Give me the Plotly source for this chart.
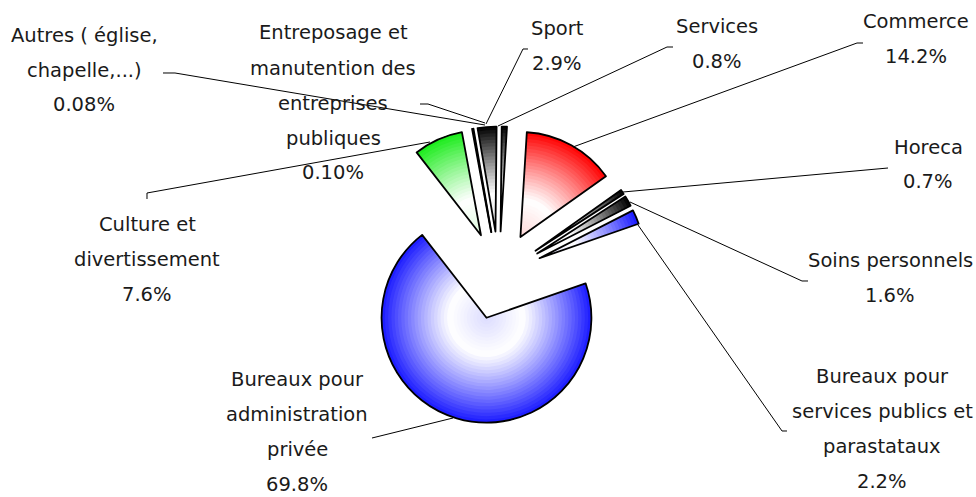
import plotly.graph_objects as go

# slices, clockwise from Commerce
categories = [
    "Commerce", "Horeca", "Soins personnels",
    "Bureaux pour services publics et parastataux",
    "Bureaux pour administration privée",
    "Culture et divertissement",
    "Entreposage et manutention des entreprises publiques",
    "Autres ( église, chapelle,...)",
    "Sport", "Services",
]
shares = [14.2, 0.7, 1.6, 2.2, 69.8, 7.6, 0.10, 0.08, 2.9, 0.8]
label_lines = [
    ["Commerce"], ["Horeca"], ["Soins personnels"],
    ["Bureaux pour", "services publics et", "parastataux"],
    ["Bureaux pour", "administration", "privée"],
    ["Culture et", "divertissement"],
    ["Entreposage et", "manutention des", "entreprises", "publiques"],
    ["Autres ( église,", "chapelle,...)"],
    ["Sport"], ["Services"],
]

W, H = 976, 497
base_colors = [(255, 0, 0), (0, 0, 0), (0, 0, 0), (25, 25, 255), (25, 25, 255),
               (25, 235, 25), (0, 0, 0), (0, 0, 0), (0, 0, 0), (0, 0, 0)]

# label placement in pixels: text centre x, first line y, leader polyline
label_pos = {
    "Commerce": (916, 22, [(863, 43), (857, 43), (573, 147)]),
    "Horeca": (928, 147, [(888, 168), (623, 192)]),
    "Soins personnels": (890, 260, [(808, 281), (802, 281), (630, 202)]),
    "Bureaux pour services publics et parastataux": (882, 376, [(787, 431), (782, 431), (638, 225)]),
    "Bureaux pour administration privée": (297, 379, [(372, 438), (453, 418)]),
    "Culture et divertissement": (147, 224, [(147, 199), (147, 193), (430, 142)]),
    "Entreposage et manutention des entreprises publiques": (333, 33, [(420, 104), (428, 104), (485, 123)]),
    "Autres ( église, chapelle,...)": (84, 35, [(163, 73), (175, 73), (485, 125)]),
    "Sport": (557, 28, [(528, 49), (523, 49), (486, 124)]),
    "Services": (717, 26, [(673, 47), (667, 47), (498, 126)]),
}
LINE_SP = 35


def px(x, y):
    return x / W, 1 - y / H


def pct_text(v):
    return f"{v:.2f}%" if v < 0.5 else f"{v:.1f}%"


def shade(rgb, t):
    r, g, b = (round(255 + (c - 255) * t) for c in rgb)
    return f"rgb({r},{g},{b})"


def grad(rho):
    if rho < 0.35:
        return 0.15 * (1 - rho / 0.35)
    return ((rho - 0.35) / 0.65) ** 1.1


cx, cy, half = 499, 275.5, 149
x0, y0 = px(cx - half, cy + half)
x1, y1 = px(cx + half, cy - half)
domain = dict(x=[x0, x1], y=[y0, y1])
pull = [0.42] * len(shares)
common = dict(labels=categories, values=shares, sort=False, direction="clockwise",
              rotation=3.5, pull=pull, domain=domain, textinfo="none",
              hoverinfo="skip", showlegend=False)

fig = go.Figure()
N = 32
for k in range(N):
    rho = (k + 0.5) / N
    fig.add_trace(go.Pie(
        hole=k / N,
        marker=dict(colors=[shade(c, grad(rho)) for c in base_colors],
                    line=dict(width=0)),
        **common,
    ))
# outlines
fig.add_trace(go.Pie(
    marker=dict(colors=["rgba(0,0,0,0)"] * len(shares),
                line=dict(color="black", width=1.8)),
    **common,
))

annotations, shapes = [], []
for cat, lines, v in zip(categories, label_lines, shares):
    tx, ty, leader = label_pos[cat]
    for i, t in enumerate(lines + [pct_text(v)]):
        x, y = px(tx, ty + i * LINE_SP)
        annotations.append(dict(x=x, y=y, xref="paper", yref="paper", text=t,
                                showarrow=False, xanchor="center", yanchor="middle",
                                font=dict(family="DejaVu Sans", size=19.5, color="#1a1a1a")))
    path = "M " + " L ".join(f"{px(a, b)[0]:.5f},{px(a, b)[1]:.5f}" for a, b in leader)
    shapes.append(dict(type="path", path=path, xref="paper", yref="paper",
                       line=dict(color="black", width=1)))

fig.update_layout(
    width=W, height=H, margin=dict(l=0, r=0, t=0, b=0),
    paper_bgcolor="white", plot_bgcolor="white",
    annotations=annotations, shapes=shapes,
)

# drop the default body margin so the figure sits at the window's corner
fig.write_html("out.html", config={"displayModeBar": False},
               post_script="document.body.style.margin='0';")
